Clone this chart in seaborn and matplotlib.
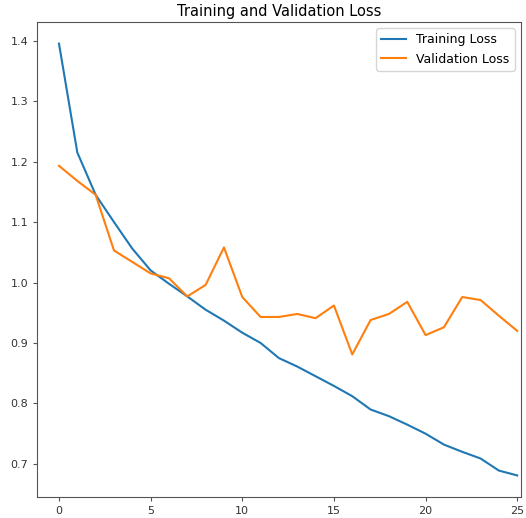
import pandas as pd
import seaborn as sns
import matplotlib.pyplot as plt

# Loss values per epoch
epochs = list(range(26))
train_loss = [1.395, 1.215, 1.145, 1.100, 1.056, 1.020, 0.998, 0.977, 0.955, 0.937,
              0.917, 0.900, 0.875, 0.861, 0.845, 0.829, 0.812, 0.790, 0.779, 0.765,
              0.750, 0.732, 0.720, 0.709, 0.689, 0.681]
val_loss = [1.193, 1.168, 1.145, 1.053, 1.034, 1.015, 1.007, 0.977, 0.996, 1.058,
            0.976, 0.943, 0.943, 0.948, 0.941, 0.962, 0.881, 0.938, 0.948, 0.968,
            0.913, 0.926, 0.976, 0.971, 0.945, 0.920]

df = pd.DataFrame({
    'epoch': epochs * 2,
    'loss': train_loss + val_loss,
    'series': ['Training Loss'] * len(epochs) + ['Validation Loss'] * len(epochs),
})

fig = plt.figure(figsize=(5.26, 5.18), dpi=100)
ax = fig.add_axes([0.0703, 0.0405, 0.920, 0.917])

sns.lineplot(data=df, x='epoch', y='loss', hue='series',
             palette=['tab:blue', 'tab:orange'], ax=ax)

ax.set_xlim(-1.2, 25.2)
ax.set_xlabel('')
ax.set_ylabel('')
ax.tick_params(labelsize=8, length=2.8, color='#555555', labelcolor='#333333')
for s in ax.spines.values():
    s.set_color('#555555')
ax.set_title('Training and Validation Loss', fontsize=10.5, pad=4)
ax.legend(loc='upper right', title=None, fontsize=9)

fig.savefig('out.png', dpi=100)
